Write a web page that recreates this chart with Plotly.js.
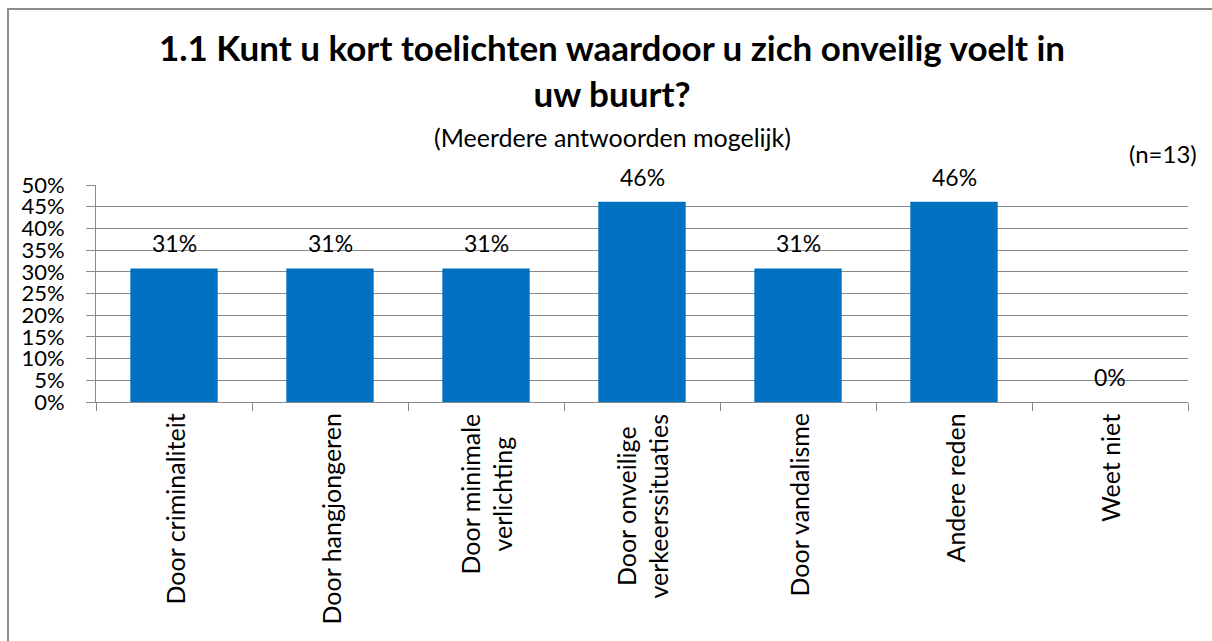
<!DOCTYPE html>
<html>
<head>
<meta charset="utf-8">
<script src="https://cdn.plot.ly/plotly-3.0.1.min.js"></script>
<style>
  html, body { margin: 0; padding: 0; background: #ffffff; }
  #chart { width: 1212px; height: 641px; }
</style>
</head>
<body>
<div id="chart"></div>
<script>
// ---- data ----
const categories = [
  "Door criminaliteit",
  "Door hangjongeren",
  "Door minimale<br>verlichting",
  "Door onveilige<br>verkeerssituaties",
  "Door vandalisme",
  "Andere reden",
  "Weet niet"
];
const values = [0.3077, 0.3077, 0.3077, 0.4615, 0.3077, 0.4615, 0];
const yTickVals = [0, 0.05, 0.10, 0.15, 0.20, 0.25, 0.30, 0.35, 0.40, 0.45, 0.50];
const yTickText = ["0%", "5%", "10%", "15%", "20%", "25%", "30%", "35%", "40%", "45%", "50%"];
const titleText = "1.1 Kunt u kort toelichten waardoor u zich onveilig voelt in<br>uw buurt?";
const subtitleText = "(Meerdere antwoorden mogelijk)";
const nText = "(n=13)";

const FONT = "Lato, 'Open Sans', sans-serif";
const GRID = "#8a8a8a";

// plot-area geometry helpers (pixel -> paper fraction)
const PL = 96, PW = 1092, PB = 402, PH = 217;
const px = (x) => (x - PL) / PW;
const py = (y) => (PB - y) / PH;

const trace = {
  type: "bar",
  x: categories,
  y: values,
  marker: { color: "#0070C0" },
  hoverinfo: "skip"
};

const annotations = [];
// data labels
categories.forEach((c, i) => {
  annotations.push({
    x: c, y: values[i], xref: "x", yref: "y",
    text: Math.round(values[i] * 100) + "%",
    showarrow: false, yanchor: "middle", xanchor: "center", yshift: 25,
    font: { family: FONT, size: 23, color: "#000" }
  });
});
// category labels (rotated, centered lines)
categories.forEach((c) => {
  annotations.push({
    x: c, y: 0, xref: "x", yref: "paper",
    text: c, textangle: -90, align: "center",
    showarrow: false, yanchor: "top", xanchor: "center", yshift: -10,
    font: { family: FONT, size: 25, color: "#000" }
  });
});
// subtitle
annotations.push({
  x: px(612), y: py(137), xref: "paper", yref: "paper",
  text: subtitleText, showarrow: false, xanchor: "center", yanchor: "middle",
  font: { family: FONT, size: 25, color: "#000" }
});
// n
annotations.push({
  x: px(1199), y: py(153), xref: "paper", yref: "paper",
  text: nText, showarrow: false, xanchor: "right", yanchor: "middle",
  font: { family: FONT, size: 24, color: "#000" }
});

const layout = {
  width: 1212,
  height: 641,
  paper_bgcolor: "#ffffff",
  plot_bgcolor: "#ffffff",
  margin: { l: 96, r: 24, t: 185, b: 239, pad: 0 },
  showlegend: false,
  bargap: 0.44,
  title: {
    text: titleText,
    x: 612 / 1212, xanchor: "center",
    y: 1 - 61 / 641, yanchor: "top",
    font: { family: FONT, size: 35, color: "#000", weight: "bold", lineposition: "none" }
  },
  xaxis: {
    type: "category",
    showticklabels: false,
    tickson: "boundaries",
    ticks: "outside", ticklen: 8, tickcolor: GRID, tickwidth: 1,
    showline: true, linecolor: GRID, linewidth: 1,
    showgrid: false, zeroline: false,
    fixedrange: true
  },
  yaxis: {
    range: [0, 0.5],
    tickvals: yTickVals, ticktext: yTickText,
    ticks: "outside", ticklen: 9, tickcolor: GRID, tickwidth: 1,
    showline: true, linecolor: GRID, linewidth: 1,
    showgrid: true, gridcolor: GRID, gridwidth: 1,
    zeroline: false,
    ticklabelstandoff: 17,
    tickfont: { family: FONT, size: 22, color: "#000" },
    fixedrange: true
  },
  annotations: annotations,
  shapes: [{
    type: "rect", xref: "paper", yref: "paper",
    x0: px(8), x1: px(1230),
    y0: py(660), y1: py(9),
    line: { color: "#8c8c8c", width: 2 },
    fillcolor: "rgba(0,0,0,0)", layer: "below"
  }]
};

Plotly.newPlot("chart", [trace], layout, { displayModeBar: false, staticPlot: true });
</script>
</body>
</html>
